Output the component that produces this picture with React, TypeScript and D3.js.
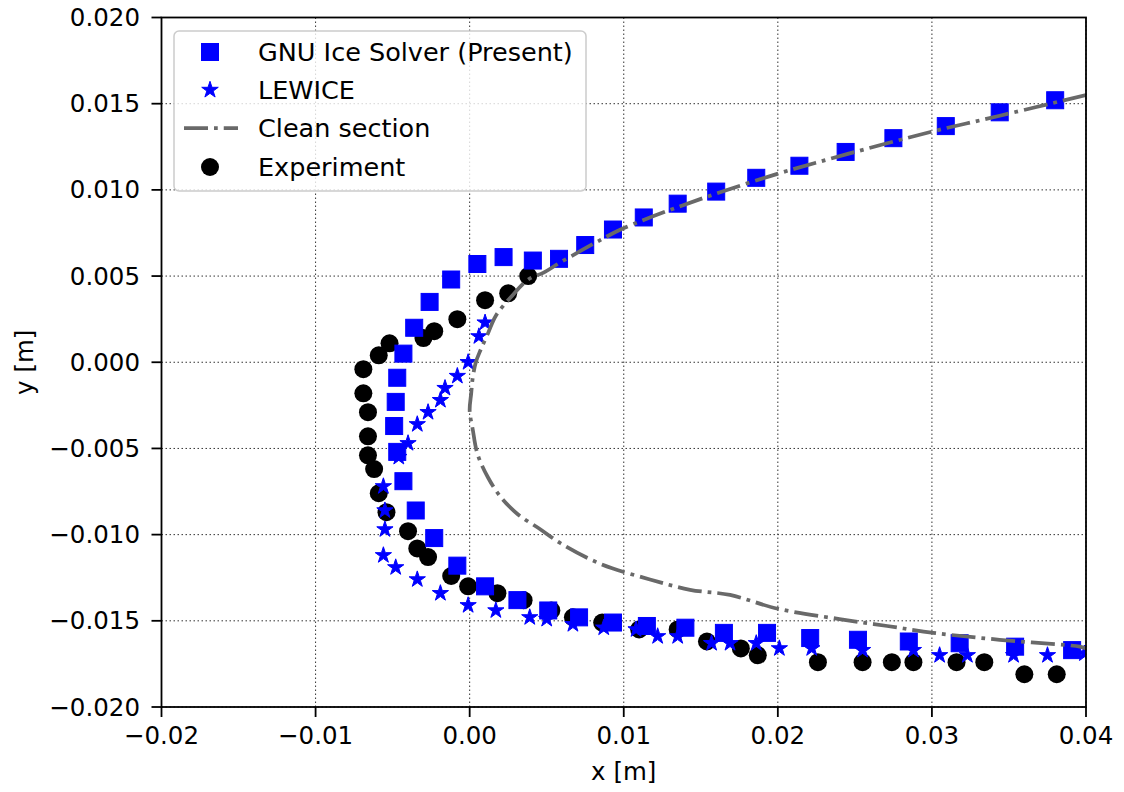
import React from "react";
import * as d3 from "d3";

const xTicks = [-0.02, -0.01, 0.0, 0.01, 0.02, 0.03, 0.04];
const yTicks = [-0.02, -0.015, -0.01, -0.005, 0.0, 0.005, 0.01, 0.015, 0.02];

const legendLabels = ["GNU Ice Solver (Present)", "LEWICE", "Clean section", "Experiment"];

const gnuSolver: [number, number][] = [
  [0.0380, 0.0152], [0.0344, 0.0145], [0.0309, 0.0137], [0.0275, 0.0130],
  [0.0244, 0.0122], [0.0214, 0.0114], [0.0186, 0.0107], [0.0160, 0.0099],
  [0.0135, 0.0092], [0.0113, 0.0084], [0.0093, 0.0077], [0.0075, 0.0068],
  [0.0058, 0.0060], [0.0041, 0.0059], [0.0022, 0.0061], [0.0005, 0.0057],
  [-0.0012, 0.0048], [-0.0026, 0.0035], [-0.0036, 0.0020], [-0.0043, 0.0005],
  [-0.0047, -0.0009], [-0.0048, -0.0023], [-0.0049, -0.0037], [-0.0047, -0.0052],
  [-0.0043, -0.0069], [-0.0035, -0.0086], [-0.0023, -0.0102], [-0.0008, -0.0118],
  [0.0010, -0.0130], [0.0031, -0.0138], [0.0051, -0.0144], [0.0071, -0.0148],
  [0.0093, -0.0151], [0.0115, -0.0153], [0.0140, -0.0154], [0.0165, -0.0157],
  [0.0193, -0.0157], [0.0221, -0.0160], [0.0252, -0.0161], [0.0285, -0.0162],
  [0.0318, -0.0163], [0.0354, -0.0165], [0.0391, -0.0167],
];

const lewice: [number, number][] = [
  [0.0010, 0.0023], [0.0006, 0.0015], [-0.0001, 0.0000], [-0.0008, -0.0008],
  [-0.0016, -0.0015], [-0.0019, -0.0022], [-0.0027, -0.0029], [-0.0034, -0.0036],
  [-0.0040, -0.0047], [-0.0046, -0.0055], [-0.0056, -0.0072], [-0.0055, -0.0086],
  [-0.0055, -0.0097], [-0.0056, -0.0112], [-0.0048, -0.0119], [-0.0034, -0.0126],
  [-0.0019, -0.0134], [-0.0001, -0.0141], [0.0017, -0.0144], [0.0039, -0.0148],
  [0.0050, -0.0149], [0.0067, -0.0152], [0.0087, -0.0154], [0.0108, -0.0155],
  [0.0122, -0.0159], [0.0135, -0.0159], [0.0157, -0.0163], [0.0169, -0.0163],
  [0.0186, -0.0163], [0.0201, -0.0166], [0.0222, -0.0166], [0.0255, -0.0167],
  [0.0288, -0.0167], [0.0305, -0.0170], [0.0323, -0.0170], [0.0353, -0.0170],
  [0.0375, -0.0170], [0.0399, -0.0169],
];

const cleanSection: [number, number][] = [
  [0.0400, 0.0155], [0.0344, 0.0143], [0.0301, 0.0134], [0.0246, 0.0121],
  [0.0195, 0.0108], [0.0135, 0.0090], [0.0098, 0.0077], [0.0085, 0.0071],
  [0.0059, 0.0058], [0.0048, 0.0052], [0.0038, 0.0048], [0.0027, 0.0038],
  [0.0017, 0.0027], [0.0012, 0.0017], [0.0007, 0.0007], [0.0004, 0.0000],
  [0.0002, -0.0009], [0.0001, -0.0018], [0.0000, -0.0028], [0.0002, -0.0039],
  [0.0005, -0.0053], [0.0012, -0.0067], [0.0020, -0.0078], [0.0031, -0.0088],
  [0.0046, -0.0097], [0.0059, -0.0105], [0.0085, -0.0117], [0.0117, -0.0126],
  [0.0143, -0.0132], [0.0169, -0.0135], [0.0200, -0.0143], [0.0240, -0.0149],
  [0.0271, -0.0153], [0.0301, -0.0157], [0.0344, -0.0161], [0.0396, -0.0165],
  [0.0400, -0.0166],
];

const experiment: [number, number][] = [
  [0.0038, 0.0050], [0.0025, 0.0040], [0.0010, 0.0036], [-0.0008, 0.0025],
  [-0.0023, 0.0018], [-0.0030, 0.0014], [-0.0052, 0.0011], [-0.0059, 0.0004],
  [-0.0069, -0.0004], [-0.0069, -0.0018], [-0.0066, -0.0029], [-0.0066, -0.0043],
  [-0.0066, -0.0054], [-0.0062, -0.0062], [-0.0059, -0.0076], [-0.0054, -0.0087],
  [-0.0040, -0.0098], [-0.0034, -0.0108], [-0.0027, -0.0113], [-0.0012, -0.0124],
  [-0.0001, -0.0130], [0.0018, -0.0134], [0.0035, -0.0138], [0.0053, -0.0144],
  [0.0067, -0.0148], [0.0086, -0.0151], [0.0110, -0.0155], [0.0135, -0.0155],
  [0.0154, -0.0162], [0.0176, -0.0166], [0.0187, -0.0170], [0.0226, -0.0174],
  [0.0255, -0.0174], [0.0274, -0.0174], [0.0288, -0.0174], [0.0316, -0.0174],
  [0.0334, -0.0174], [0.0360, -0.0181], [0.0381, -0.0181],
];

const W = 1124;
const H = 792;
const M = { left: 161.5, right: 1086, top: 17.5, bottom: 707 };
const FONT = "'DejaVu Sans', sans-serif";
const BLUE = "#0000ff";
const GRAY = "#696969";

const fmt = (v: number, d: number) => {
  const s = Math.abs(v).toFixed(d);
  return v < -1e-12 ? "\u2212" + s : s;
};

export default function App() {
  const x = d3.scaleLinear().domain([-0.02, 0.04]).range([M.left, M.right]);
  const y = d3.scaleLinear().domain([-0.02, 0.02]).range([M.bottom, M.top]);

  const line = d3
    .line<[number, number]>()
    .x((d) => x(d[0]))
    .y((d) => y(d[1]))
    .curve(d3.curveCatmullRom.alpha(0.5));

  const starPath = d3.symbol(d3.symbolStar, 82)() as string;
  const starPathLeg = d3.symbol(d3.symbolStar, 85)() as string;
  const sq = 17;
  const lw = 3.75;
  const dash = "24,6,3.75,6";

  const legX = 174;
  const legY = 31;
  const legW = 412;
  const legH = 160;
  const rowY = [52, 90, 128, 167];
  const mkX = 210;
  const txtX = 258;

  return (
    <div>
      <style>{`body{margin:0;}`}</style>
      <svg width={W} height={H} style={{ display: "block", background: "#fff" }}>
        <defs>
          <clipPath id="plotclip">
            <rect x={M.left} y={M.top} width={M.right - M.left} height={M.bottom - M.top} />
          </clipPath>
        </defs>
        {/* grid */}
        <g stroke="#333" strokeWidth={1} strokeDasharray="1.5,2.5">
          {xTicks.map((t, i) => (
            <line key={"gx" + i} x1={x(t)} x2={x(t)} y1={M.top} y2={M.bottom} />
          ))}
          {yTicks.map((t, i) => (
            <line key={"gy" + i} x1={M.left} x2={M.right} y1={y(t)} y2={y(t)} />
          ))}
        </g>
        <g clipPath="url(#plotclip)">
          {experiment.map((d, i) => (
            <circle key={"e" + i} cx={x(d[0])} cy={y(d[1])} r={9} fill="#000" />
          ))}
          {gnuSolver.map((d, i) => (
            <rect
              key={"g" + i}
              x={x(d[0]) - sq / 2}
              y={y(d[1]) - sq / 2}
              width={sq}
              height={sq}
              fill={BLUE}
              stroke={BLUE}
              strokeWidth={1}
            />
          ))}
          {lewice.map((d, i) => (
            <path
              key={"l" + i}
              d={starPath}
              transform={`translate(${x(d[0])},${y(d[1])})`}
              fill={BLUE}
              stroke={BLUE}
              strokeWidth={1}
            />
          ))}
          <path
            d={line(cleanSection) as string}
            fill="none"
            stroke={GRAY}
            strokeWidth={lw}
            strokeDasharray={dash}
          />
        </g>
        {/* spines */}
        <rect
          x={M.left}
          y={M.top}
          width={M.right - M.left}
          height={M.bottom - M.top}
          fill="none"
          stroke="#000"
          strokeWidth={1.8}
        />
        {/* ticks */}
        <g stroke="#000" strokeWidth={1.8}>
          {xTicks.map((t, i) => (
            <line key={"tx" + i} x1={x(t)} x2={x(t)} y1={M.bottom} y2={M.bottom + 10} />
          ))}
          {yTicks.map((t, i) => (
            <line key={"ty" + i} x1={M.left - 10} x2={M.left} y1={y(t)} y2={y(t)} />
          ))}
        </g>
        <g fontFamily={FONT} fontSize={24.5} fill="#000">
          {xTicks.map((t, i) => (
            <text key={"lx" + i} x={x(t)} y={744} textAnchor="middle">
              {fmt(t, 2)}
            </text>
          ))}
          {yTicks.map((t, i) => (
            <text key={"ly" + i} x={140} y={y(t)} textAnchor="end" dominantBaseline="central">
              {fmt(t, 3)}
            </text>
          ))}
          <text x={(M.left + M.right) / 2} y={780} textAnchor="middle">
            x [m]
          </text>
          <text
            transform={`translate(24,${(M.top + M.bottom) / 2}) rotate(-90)`}
            textAnchor="middle"
            dominantBaseline="central"
          >
            y [m]
          </text>
        </g>
        {/* legend */}
        <g>
          <rect
            x={legX}
            y={legY}
            width={legW}
            height={legH}
            rx={5}
            ry={5}
            fill="#fff"
            fillOpacity={0.8}
            stroke="#cccccc"
            strokeWidth={1.5}
          />
          <rect x={mkX - sq / 2} y={rowY[0] - sq / 2} width={sq} height={sq} fill={BLUE} stroke={BLUE} strokeWidth={1} />
          <path d={starPathLeg} transform={`translate(${mkX},${rowY[1]})`} fill={BLUE} stroke={BLUE} strokeWidth={1} />
          <line
            x1={184}
            x2={238}
            y1={rowY[2]}
            y2={rowY[2]}
            stroke={GRAY}
            strokeWidth={lw}
            strokeDasharray={dash}
          />
          <circle cx={mkX} cy={rowY[3]} r={9} fill="#000" />
          <g fontFamily={FONT} fontSize={25.5} fill="#000">
            {legendLabels.map((l, i) => (
              <text key={"leg" + i} x={txtX} y={rowY[i]} dominantBaseline="central">
                {l}
              </text>
            ))}
          </g>
        </g>
      </svg>
    </div>
  );
}
